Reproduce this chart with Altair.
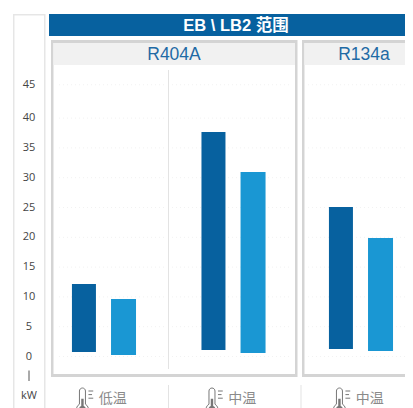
import altair as alt
import pandas as pd

# ---- data ----
tick_values = [0, 5, 10, 15, 20, 25, 30, 35, 40, 45.6]
tick_labels = ["0", "5", "10", "15", "20", "25", "30", "35", "40", "45"]
groups = ["低温", "中温", "中温"]
refrigerants = ["R404A", "R134a"]
dark_low = [0.76, 1.09, 1.26]
dark_high = [12.16, 37.67, 25.08]
light_low = [0.25, 0.59, 0.92]
light_high = [9.65, 30.96, 19.88]
title_text = "EB \\ LB2 范围"

# ---- layout (page is offset by 8px) ----
W, H = 397, 400
DARK, LIGHT = "#07619f", "#1a97d3"
FONT = "Liberation Sans, Noto Sans CJK SC, sans-serif"
CJK = "Noto Sans CJK SC, sans-serif"
group_slots = [0, 1.008, 2.0]
BAR_OFFSET = 0.154
x_scale = alt.Scale(domain=[-0.745, -0.745 + W / 128.5], range=[0, W], nice=False, zero=False, padding=0)
y_scale = alt.Scale(domain=[(348.5 - H) / 5.96, 348.5 / 5.96], range=[H, 0], nice=False, zero=False)
X = alt.X("x:Q", scale=x_scale, axis=None)
Y = alt.Y("y:Q", scale=y_scale, axis=None)


def px(v):
    return alt.value(v - 8)


def box(x0, x1, y0, y1, color):
    return alt.Chart(pd.DataFrame({"a": [0]})).mark_rect(color=color).encode(
        x=px(x0), x2=px(x1), y=px(y0), y2=px(y1))


def vline(x0, y0, y1, color="#e3e3e3", w=1.0):
    return alt.Chart(pd.DataFrame({"a": [0]})).mark_rule(color=color, strokeWidth=w).encode(
        x=px(x0), y=px(y0), y2=px(y1))


def label(text, x0, y0, color, size, font=FONT, weight="normal"):
    return alt.Chart(pd.DataFrame({"t": [text]})).mark_text(
        color=color, fontSize=size, font=font, fontWeight=weight, align="center", baseline="middle"
    ).encode(text="t:N", x=px(x0), y=px(y0))


layers = []
# left axis column
layers.append(box(13, 45.5, 14, 420, "#e6e6e6"))
layers.append(box(14.5, 44, 15.5, 420, "#ffffff"))
# title band
layers.append(box(49, 420, 14, 36, DARK))
layers.append(label(title_text, 236, 25.5, "#ffffff", 16.5, weight="bold"))
# panels
for x0, x1 in [(51, 297.5), (302, 460)]:
    layers.append(box(x0, x1, 40, 377, "#d4d4d4"))
    layers.append(box(x0 + 2.5, x1 - 2.5, 43, 374, "#ffffff"))
    layers.append(box(x0 + 2.5, x1 - 2.5, 43, 65, "#f1f1f1"))
layers.append(label(refrigerants[0], 174, 55, "#1f6aa5", 17.5))
layers.append(label(refrigerants[1], 364, 55, "#1f6aa5", 17.5))

# grid
grid_df = pd.DataFrame({"y": tick_values[:]})
for x0, x1 in [(59, 165), (172, 291), (308, 410)]:
    layers.append(alt.Chart(grid_df).mark_rule(color="#f2f2f2", strokeWidth=1, strokeDash=[1, 3]).encode(
        y=Y, x=px(x0), x2=px(x1)))

# dividers
layers.append(vline(168.5, 70, 369))
layers.append(vline(168.5, 385, 420))
layers.append(vline(301, 385, 420))

# bars
dark_df = pd.DataFrame({"x": [s - BAR_OFFSET for s in group_slots], "y": dark_low, "y2": dark_high})
light_df = pd.DataFrame({"x": [s + BAR_OFFSET for s in group_slots], "y": light_low, "y2": light_high})
layers.append(alt.Chart(dark_df).mark_bar(color=DARK, size=24).encode(x=X, y=Y, y2="y2:Q"))
layers.append(alt.Chart(light_df).mark_bar(color=LIGHT, size=25).encode(x=X, y=Y, y2="y2:Q"))

# y labels
tick_df = pd.DataFrame({"y": tick_values, "t": tick_labels})
layers.append(alt.Chart(tick_df).mark_text(
    color="#444444", fontSize=11, font="Open Sans, sans-serif", align="center", baseline="middle"
).encode(y=Y, x=px(29), text="t:N"))
layers.append(vline(29, 370.5, 381, "#555555", 1))
layers.append(label("kW", 29, 396, "#444444", 11, font="Open Sans, sans-serif"))

# bottom labels with thermometer icons
bottom_df = pd.DataFrame({"x": [s + 0.07 for s in group_slots], "t": groups})
layers.append(alt.Chart(bottom_df).mark_text(
    color="#8a8a8a", fontSize=14, font=CJK, align="center", baseline="middle"
).encode(x=X, y=px(398.5), text="t:N"))
icon_df = pd.DataFrame({"x": [s - 0.147 for s in group_slots]})
TUBE = "M-0.45,0.35 L-0.45,-0.75 A0.25,0.25 0 0 1 0.05,-0.75 L0.05,0.35 A0.5,0.5 0 1 1 -0.45,0.35 Z"
MARKS = "M0.3,-0.75 L0.7,-0.75 M0.3,-0.45 L0.6,-0.45 M0.3,-0.15 L0.7,-0.15"
FILL = "M-0.3,0.5 L-0.3,-0.1 L-0.1,-0.1 L-0.1,0.5 A0.3,0.3 0 1 1 -0.3,0.5 Z"
for shape, filled in [(TUBE, False), (MARKS, False), (FILL, True)]:
    layers.append(alt.Chart(icon_df).mark_point(
        shape=shape, size=576, filled=filled, color="#777777", strokeWidth=1, opacity=1
    ).encode(x=X, y=px(400)))

chart = alt.layer(*layers).properties(
    width=W, height=H, padding=0, autosize=alt.AutoSizeParams(type="none")
).configure_view(stroke=None)

chart.save("out.html", embed_options={"renderer": "svg", "actions": False})
